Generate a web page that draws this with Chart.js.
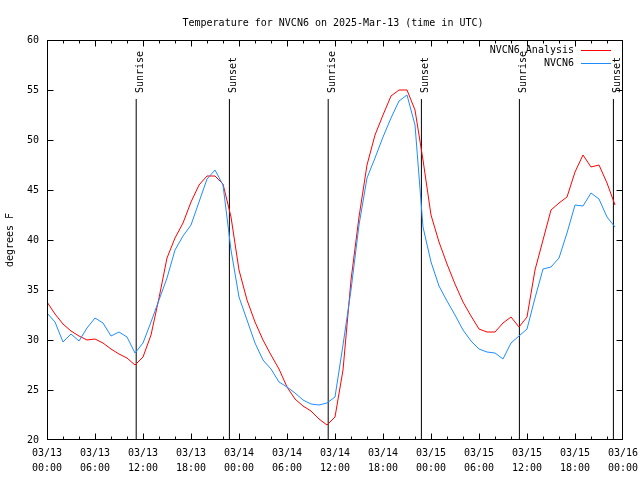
<!DOCTYPE html>
<html><head><meta charset="utf-8">
<script src="https://cdn.jsdelivr.net/npm/chart.js@4"></script>
<style>html,body{margin:0;padding:0;background:#fff}canvas{display:block}</style>
</head><body>
<canvas id="c" width="640" height="480"></canvas>
<script>
const titleText = "Temperature for NVCN6 on 2025-Mar-13 (time in UTC)";
const yAxisTitle = "degrees F";
const seriesNames = ["NVCN6 Analysis", "NVCN6"];
const hours = [0,1,2,3,4,5,6,7,8,9,10,11,12,13,14,15,16,17,18,19,20,21,22,23,
  24,25,26,27,28,29,30,31,32,33,34,35,36,37,38,39,40,41,42,43,44,45,46,47,
  48,49,50,51,52,53,54,55,56,57,58,59,60,61,62,63,64,65,66,67,68,69,70,71];
const analysisTemps = [33.8,32.6,31.6,30.9,30.4,30.0,30.1,29.7,29.1,28.6,28.2,27.5,
  28.3,30.5,34.2,38.2,40.2,41.7,43.8,45.5,46.4,46.4,45.6,42.3,
  37.0,34.0,31.8,30.0,28.5,27.1,25.3,24.1,23.4,22.9,22.1,21.5,
  22.3,27.0,36.0,42.3,47.5,50.5,52.5,54.4,55.0,55.0,53.0,48.0,
  42.5,39.8,37.6,35.6,33.8,32.4,31.1,30.8,30.8,31.7,32.3,31.3,
  32.3,37.0,40.0,43.0,43.7,44.3,46.8,48.5,47.3,47.5,45.7,43.5];
const observedTemps = [32.7,31.8,29.8,30.6,29.9,31.2,32.2,31.7,30.4,30.8,30.3,28.7,
  29.7,31.8,34.0,36.2,39.0,40.4,41.5,43.8,46.1,47.0,45.5,39.0,
  34.3,32.0,29.7,28.0,27.1,25.8,25.3,24.7,24.0,23.6,23.5,23.7,
  24.3,29.5,35.0,41.5,46.2,48.2,50.3,52.2,53.9,54.5,51.5,41.3,
  37.8,35.4,33.9,32.5,31.0,29.9,29.1,28.8,28.7,28.1,29.7,30.4,
  31.1,34.2,37.1,37.3,38.2,40.7,43.5,43.4,44.7,44.1,42.3,41.3];
const tickDates = ["03/13","03/13","03/13","03/13","03/14","03/14","03/14","03/14","03/15","03/15","03/15","03/15","03/16"];
const tickTimes = ["00:00","06:00","12:00","18:00","00:00","06:00","12:00","18:00","00:00","06:00","12:00","18:00","00:00"];
const sunriseHours = [11.15, 35.15, 59.05];
const sunsetHours = [22.8, 46.8, 70.8];
const eventLineBottom = 20;
const eventLineTop = 54.1;

const FONT = "'DejaVu Sans Mono', 'Liberation Mono', monospace";
const RED = '#ff0000';
const BLUE = '#1e8cff';

const events = [];
sunriseHours.forEach(h => events.push({h, label: 'Sunrise'}));
sunsetHours.forEach(h => events.push({h, label: 'Sunset'}));
events.sort((a,b)=>a.h-b.h);

const datasets = [
  {label: seriesNames[1], data: hours.map((h,i)=>({x:h, y:observedTemps[i]})), borderColor: BLUE, borderWidth: 1, pointRadius: 0, tension: 0, order: 0},
  {label: seriesNames[0], data: hours.map((h,i)=>({x:h, y:analysisTemps[i]})), borderColor: RED, borderWidth: 1, pointRadius: 0, tension: 0, order: 1}
];
events.forEach(e => datasets.push({label: e.label, data: [{x:e.h, y:eventLineBottom},{x:e.h, y:eventLineTop}], borderColor: '#000', borderWidth: 1, pointRadius: 0, order: 2}));

function L(ctx, x1, y1, x2, y2){ ctx.beginPath(); ctx.moveTo(x1,y1); ctx.lineTo(x2,y2); ctx.stroke(); }

const deco = {
  id: 'deco',
  afterDatasetsDraw(chart) {
    const {ctx, chartArea: a, scales: {x, y}} = chart;
    ctx.save();
    ctx.strokeStyle = '#000'; ctx.lineWidth = 1;
    const L0 = Math.round(a.left)+0.5, R0 = Math.round(a.right)-0.5, T0 = Math.round(a.top)+0.5, B0 = Math.round(a.bottom)-0.5;
    ctx.strokeRect(L0, T0, R0-L0, B0-T0);
    for (let v = x.min + 2; v < x.max; v += 2) {
      const px = Math.round(x.getPixelForValue(v)) + 0.5;
      const len = (v % 6 === 0) ? 6 : 3;
      L(ctx, px, B0, px, B0 - len);
      L(ctx, px, T0, px, T0 + len);
    }
    y.ticks.forEach(t => {
      if (t.value <= y.min || t.value >= y.max) return;
      const py = Math.round(y.getPixelForValue(t.value)) + 0.5;
      L(ctx, L0, py, L0 + 6, py);
      L(ctx, R0, py, R0 - 6, py);
    });
    ctx.fillStyle = '#000';
    ctx.font = '10px ' + FONT;
    const labelStart = y.getPixelForValue(eventLineTop) - 6;
    events.forEach(e => {
      const px = Math.round(x.getPixelForValue(e.h));
      ctx.save();
      ctx.translate(px + 7, labelStart);
      ctx.rotate(-Math.PI/2);
      ctx.textAlign = 'left'; ctx.textBaseline = 'alphabetic';
      ctx.fillText(e.label, 0, 0);
      ctx.restore();
    });
    ctx.textAlign = 'right'; ctx.textBaseline = 'middle';
    const rows = [{t: seriesNames[0], c: RED, yy: 50}, {t: seriesNames[1], c: BLUE, yy: 63}];
    rows.forEach(r => {
      ctx.fillStyle = '#000';
      ctx.fillText(r.t, 574, r.yy);
      ctx.strokeStyle = r.c;
      L(ctx, 581, r.yy + 0.5, 611, r.yy + 0.5);
    });
    ctx.fillStyle = '#000';
    ctx.textAlign = 'center'; ctx.textBaseline = 'alphabetic';
    ctx.fillText(titleText, 333, 25.5);
    ctx.restore();
  }
};

new Chart(document.getElementById('c'), {
  type: 'line',
  data: {datasets},
  options: {
    responsive: false,
    animation: false,
    devicePixelRatio: 1,
    layout: {padding: {left: 0, right: 17, top: 40, bottom: 0}},
    plugins: {legend: {display: false}, title: {display: false}, tooltip: {enabled: false}},
    scales: {
      x: {
        type: 'linear', min: 0, max: 72,
        grid: {display: false, drawTicks: false},
        border: {display: false},
        afterFit: s => { s.height = 40; s.paddingLeft = 0; s.paddingRight = 0; },
        ticks: {
          stepSize: 6, autoSkip: false, maxRotation: 0, minRotation: 0, padding: 6,
          color: '#000', font: {family: FONT, size: 10, lineHeight: 1.5},
          callback: v => { const i = Math.round(v/6); return [tickDates[i], tickTimes[i]]; }
        }
      },
      y: {
        min: 20, max: 60,
        grid: {display: false, drawTicks: false},
        border: {display: false},
        afterFit: s => { s.width = 47; s.paddingTop = 0; s.paddingBottom = 0; },
        title: {display: true, text: yAxisTitle, color: '#000', font: {family: FONT, size: 10}, padding: {top: 4, bottom: 0}},
        ticks: {stepSize: 5, padding: 8, color: '#000', font: {family: FONT, size: 10}}
      }
    }
  },
  plugins: [deco]
});
</script>
</body></html>
